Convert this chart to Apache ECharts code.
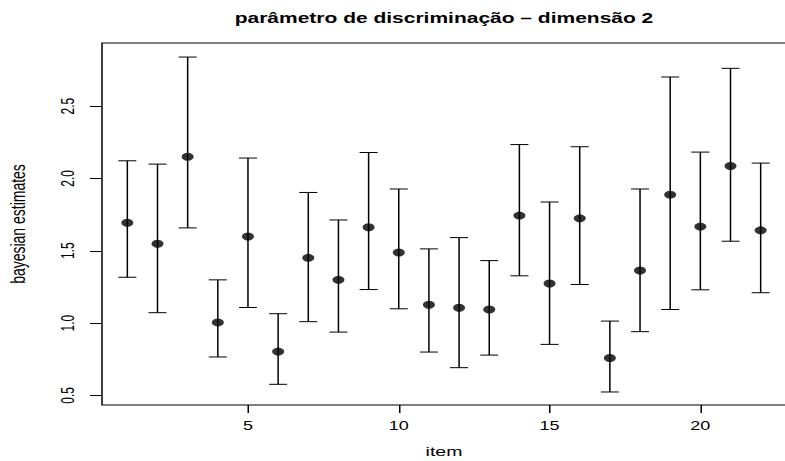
<!DOCTYPE html>
<html>
<head>
<meta charset="utf-8">
<script src="https://cdn.jsdelivr.net/npm/echarts@6/dist/echarts.min.js"></script>
<style>
  html, body { margin: 0; padding: 0; background: #fff; overflow: hidden; }
  #wrap { width: 785px; height: 461px; overflow: hidden; }
  /* the plot is laid out narrow and widened horizontally, like the original device */
  #chart { width: 524px; height: 461px; transform: scaleX(1.5); transform-origin: 0 0; }
</style>
</head>
<body>
<div id="wrap"><div id="chart"></div></div>
<script>
// item index
const items = [1, 2, 3, 4, 5, 6, 7, 8, 9, 10, 11, 12, 13, 14, 15, 16, 17, 18, 19, 20, 21, 22];
// posterior estimates of the discrimination parameter (dimension 2)
const estimates = [1.694, 1.548, 2.150, 1.005, 1.598, 0.803, 1.451, 1.299, 1.662, 1.488, 1.127,
                   1.106, 1.094, 1.743, 1.274, 1.724, 0.759, 1.363, 1.888, 1.667, 2.086, 1.641];
// interval bounds
const lower = [1.317, 1.072, 1.658, 0.766, 1.108, 0.577, 1.010, 0.938, 1.232, 1.099, 0.800,
               0.692, 0.779, 1.327, 0.853, 1.267, 0.524, 0.941, 1.094, 1.230, 1.566, 1.210];
const upper = [2.122, 2.099, 2.839, 1.299, 2.141, 1.065, 1.903, 1.713, 2.179, 1.927, 1.513,
               1.591, 1.432, 2.234, 1.837, 2.219, 1.014, 1.927, 2.701, 2.182, 2.761, 2.106];
// tick labels
const xTicks = [5, 10, 15, 20];
const yTicks = [0.5, 1.0, 1.5, 2.0, 2.5];

const titleText = 'parâmetro de discriminação – dimensão 2';
const FONT = '"Liberation Sans", Arial, Helvetica, sans-serif';

const chart = echarts.init(document.getElementById('chart'), null, { renderer: 'svg' });

const intervalData = items.map((x, i) => [x, lower[i], upper[i]]);
const pointData = items.map((x, i) => [x, estimates[i]]);

chart.setOption({
  animation: false,
  backgroundColor: '#fff',
  graphic: [{
    type: 'text',
    x: 296, y: 11,
    style: {
      text: titleText,
      fill: '#000',
      font: 'bold 14px ' + FONT,
      textAlign: 'center',
      textVerticalAlign: 'top'
    }
  }],
  grid: {
    left: 68, right: 0, top: 43, bottom: 56,
    outerBoundsMode: 'none',
    containLabel: false,
    show: true, borderColor: '#000', borderWidth: 1, backgroundColor: 'transparent'
  },
  xAxis: {
    type: 'value',
    min: 0.16, max: 22.84,
    name: 'item',
    nameLocation: 'middle',
    nameGap: 40,
    nameTextStyle: { color: '#000', fontSize: 13, fontFamily: FONT },
    axisLine: { show: false },
    axisTick: { show: true, length: 8, customValues: xTicks, lineStyle: { color: '#000', width: 1 } },
    axisLabel: { customValues: xTicks, margin: 15, color: '#000', fontSize: 12, fontFamily: FONT },
    splitLine: { show: false }
  },
  yAxis: {
    type: 'value',
    min: 0.434, max: 2.936,
    name: 'bayesian estimates',
    nameLocation: 'middle',
    nameGap: 49,
    nameTextStyle: { color: '#000', fontSize: 14, fontFamily: FONT },
    axisLine: { show: false },
    axisTick: { show: true, length: 8, customValues: yTicks, lineStyle: { color: '#000', width: 1 } },
    axisLabel: {
      customValues: yTicks, rotate: 90, margin: 17, color: '#000', fontSize: 12, fontFamily: FONT,
      formatter: v => Number(v).toFixed(1)
    },
    splitLine: { show: false }
  },
  series: [
    {
      type: 'custom',
      data: intervalData,
      encode: { x: 0, y: [1, 2] },
      renderItem: (params, api) => {
        const x = api.value(0);
        const lo = api.coord([x, api.value(1)]);
        const hi = api.coord([x, api.value(2)]);
        const cap = 6;
        const st = { stroke: '#000', lineWidth: 1 };
        return {
          type: 'group',
          children: [
            { type: 'line', shape: { x1: lo[0], y1: lo[1], x2: hi[0], y2: hi[1] }, style: st },
            { type: 'line', shape: { x1: lo[0] - cap, y1: lo[1], x2: lo[0] + cap, y2: lo[1] }, style: st },
            { type: 'line', shape: { x1: hi[0] - cap, y1: hi[1], x2: hi[0] + cap, y2: hi[1] }, style: st }
          ]
        };
      },
      z: 2
    },
    {
      type: 'scatter',
      data: pointData,
      symbol: 'circle',
      symbolSize: 8,
      itemStyle: { color: '#000' },
      z: 3
    }
  ]
});
</script>
</body>
</html>
